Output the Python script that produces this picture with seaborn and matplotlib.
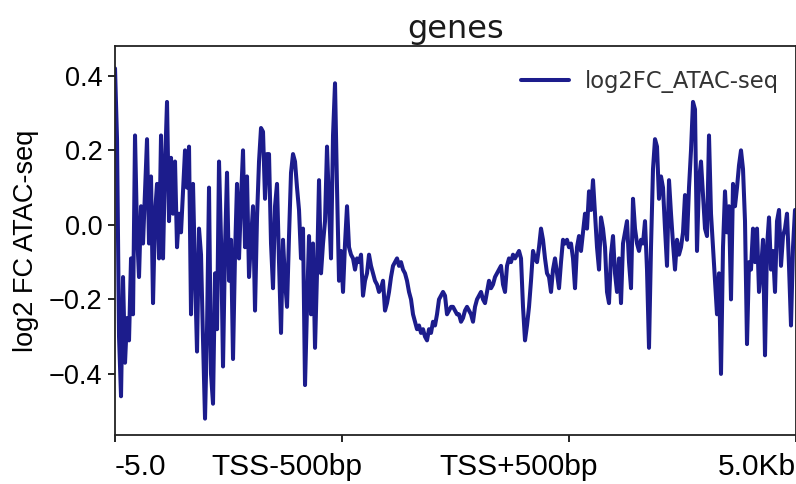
import matplotlib
matplotlib.use("Agg")
import matplotlib.pyplot as plt
import matplotlib.transforms as mtransforms
import seaborn as sns
import pandas as pd
import numpy as np

# ---- data (log2FC ATAC-seq profile, uniform bins from -5kb to +5kb) ----
seg_upstream = [
    0.42, 0.23, -0.30, -0.46, -0.14, -0.37, -0.25, -0.31, -0.09, -0.24,
    0.24, -0.02, -0.14, 0.05, -0.05, 0.09, 0.23, -0.05, 0.13, -0.21,
    0.03, 0.11, -0.09, 0.24, -0.09, 0.16, 0.33, 0.01, 0.18, 0.03,
    0.17, -0.06, 0.03, -0.02, 0.09, 0.20, 0.10, 0.21, -0.24, 0.11,
    -0.13, -0.34, -0.01, -0.08, -0.31, -0.52, -0.28, 0.10, -0.40, -0.48,
    -0.13, -0.28, 0.17, -0.04, -0.38, -0.06, 0.14, -0.15, -0.04, -0.36,
    -0.08, 0.11, -0.09, 0.07, 0.20, -0.06, 0.13, -0.14, -0.04, 0.05,
    -0.23, 0.02, 0.17, 0.26, 0.25, 0.07, 0.19,
]
seg_tss_left = [
    0.19, -0.05, -0.17, 0.05, 0.11, -0.10, -0.29, -0.04, -0.15, -0.22,
    -0.03, 0.14, 0.19, 0.17, 0.10, 0.04, -0.09, -0.01, -0.43, -0.22,
    -0.03, -0.24, -0.05, -0.33, -0.13, 0.12, -0.13, -0.05, 0.01, 0.21,
    0.05, -0.09, 0.24, 0.38, 0.10, -0.15, -0.07, -0.18, -0.05, 0.05,
    -0.06, -0.08, -0.09, -0.12, -0.09, -0.10, -0.08, -0.19, -0.15, -0.13,
    -0.08, -0.11, -0.13, -0.15, -0.16, -0.18, -0.17, -0.15, -0.23, -0.21,
    -0.18, -0.14, -0.11, -0.10, -0.09, -0.11, -0.10, -0.12, -0.13, -0.15,
    -0.18, -0.20, -0.24, -0.26, -0.28, -0.27, -0.29, -0.28, -0.30, -0.31,
    -0.28, -0.29, -0.26, -0.27, -0.24,
]
seg_tss_right = [
    -0.20, -0.19, -0.18, -0.19, -0.24, -0.23, -0.22, -0.22, -0.23, -0.24,
    -0.24, -0.26, -0.25, -0.23, -0.22, -0.23, -0.24, -0.26, -0.22, -0.20,
    -0.19, -0.18, -0.20, -0.21, -0.18, -0.15, -0.17, -0.16, -0.14, -0.13,
    -0.12, -0.11, -0.16, -0.18, -0.11, -0.09, -0.10, -0.08, -0.09, -0.08,
    -0.07, -0.09, -0.22, -0.31, -0.27, -0.22, -0.15, -0.07, -0.09, -0.10,
    -0.06, -0.01, -0.04, -0.09, -0.13, -0.14, -0.18, -0.12, -0.09, -0.13,
    -0.17, -0.10, -0.04, -0.05, -0.04, -0.06, -0.05, -0.09, -0.17, -0.06,
    -0.03, -0.07, -0.02, 0.03, -0.01, 0.09, 0.04, 0.12, 0.03, -0.06,
    -0.12, 0.02, -0.01, -0.06, -0.18,
]
seg_downstream = [
    -0.21, -0.08, -0.03, -0.13, -0.18, -0.09, -0.21, -0.05, -0.02, 0.01,
    -0.10, -0.17, 0.07, -0.01, -0.05, -0.07, -0.04, -0.05, 0.01, -0.12,
    -0.33, -0.06, 0.15, 0.23, 0.21, 0.07, 0.13, 0.10, -0.01, -0.11,
    0.12, 0.03, -0.05, -0.12, -0.04, -0.08, -0.06, -0.02, 0.08, -0.04,
    0.10, 0.20, 0.33, 0.31, -0.07, 0.12, 0.17, 0.08, -0.01, -0.03,
    0.24, 0.03, -0.06, -0.15, -0.24, -0.13, -0.40, -0.06, 0.09, -0.02,
    0.05, -0.20, 0.11, 0.05, 0.10, 0.16, 0.20, 0.15, 0.01, -0.32,
    -0.10, -0.12, -0.01, -0.10, -0.01, -0.18, -0.12, -0.04, -0.35, -0.06,
    0.02, -0.12, -0.07, -0.18, 0.01, 0.04, -0.11, -0.03, -0.01, 0.03,
    -0.11, -0.27, -0.06, 0.04,
]
series_name = "log2FC_ATAC-seq"
tick_labels = ["-5.0", "TSS-500bp", "TSS+500bp", "5.0Kb"]
y_ticks = [-0.4, -0.2, 0.0, 0.2, 0.4]
title = "genes"
ylabel = "log2 FC ATAC-seq"

values = seg_upstream + seg_tss_left + seg_tss_right + seg_downstream
df = pd.DataFrame({"bin": np.arange(len(values)), "value": values,
                   "sample": series_name})

# ---- plot ----
sns.set_theme(style="ticks")
plt.rcParams["font.family"] = ["Liberation Sans", "DejaVu Sans"]
plt.rcParams["axes.unicode_minus"] = True
plt.rcParams["text.color"] = "black"

fig = plt.figure(figsize=(7.96, 4.84), dpi=100)
ax = fig.add_axes([0.1445, 0.1012, 0.8555, 0.8037])

sns.lineplot(data=df, x="bin", y="value", hue="sample",
             palette=["#1c1c8c"], linewidth=2.9, ax=ax)

n = len(values)
x_right = n - 0.5
ax.set_xlim(0, x_right)
ax.set_ylim(-0.564, 0.48)
ax.set_xticks([0, x_right / 3, 2 * x_right / 3, x_right])
ax.set_xticklabels(tick_labels)
ax.set_yticks(y_ticks)
ax.set_yticklabels([f"{v:.1f}".replace("-", "\u2212") for v in y_ticks])

ax.tick_params(axis="both", length=5, width=1.2,
               color="black", labelcolor="black", direction="out")
ax.tick_params(axis="x", labelsize=21.5, pad=8)
ax.tick_params(axis="y", labelsize=19.5, pad=4)

labs = ax.get_xticklabels()
labs[0].set_horizontalalignment("left")
labs[-1].set_horizontalalignment("right")
shifts_px = [0, -55, -50, 0]
for lab, dx in zip(labs, shifts_px):
    if dx:
        lab.set_transform(lab.get_transform() +
                          mtransforms.ScaledTranslation(dx / 100, 0, fig.dpi_scale_trans))

for s in ax.spines.values():
    s.set_visible(True)
    s.set_color("#222222")
    s.set_linewidth(1.3)

ax.set_xlabel("")
ax.set_ylabel(ylabel, fontsize=19.5, labelpad=7, color="black")
ax.set_title(title, fontsize=23, family="DejaVu Sans", pad=6, color="#1a1a1a")

leg = ax.legend(loc="upper right", frameon=False,
                prop={"family": "DejaVu Sans", "size": 16.3},
                handlelength=2.15, handletextpad=0.7,
                bbox_to_anchor=(1.005, 0.992))
for line in leg.get_lines():
    line.set_linewidth(2.9)
for t in leg.get_texts():
    t.set_color("#333333")

fig.savefig("out.png", dpi=100)
